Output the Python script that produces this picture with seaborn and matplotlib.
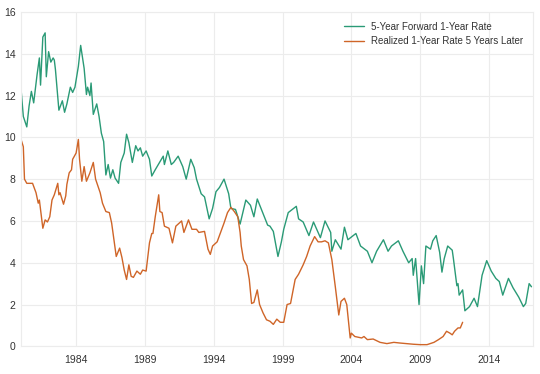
import pandas as pd
import seaborn as sns
import matplotlib.pyplot as plt

# 5-year forward 1-year rate (monthly readings)
fwd_dates = [
    "1980-01", "1980-03", "1980-06", "1980-08", "1980-10", "1980-12",
    "1981-03", "1981-05", "1981-06", "1981-08", "1981-10", "1981-11",
    "1982-01", "1982-03", "1982-05", "1982-06", "1982-07", "1982-10",
    "1983-01", "1983-03", "1983-05", "1983-08", "1983-10", "1983-12",
    "1984-03", "1984-05", "1984-08", "1984-10", "1984-11",
    "1985-01", "1985-02", "1985-04", "1985-07", "1985-09", "1985-11",
    "1986-01", "1986-02", "1986-03", "1986-05", "1986-07", "1986-09", "1986-11",
    "1987-02", "1987-04", "1987-07", "1987-09", "1987-11",
    "1988-02", "1988-05", "1988-07", "1988-09", "1988-11",
    "1989-02", "1989-05", "1989-07", "1989-10",
    "1990-05", "1990-06", "1990-09", "1990-12",
    "1991-02", "1991-06", "1991-10",
    "1992-01", "1992-05", "1992-08", "1992-10",
    "1993-02", "1993-05", "1993-09", "1993-12",
    "1994-03", "1994-06", "1994-10",
    "1995-02", "1995-04", "1995-08", "1995-12",
    "1996-05", "1996-09", "1996-12",
    "1997-03", "1997-07", "1997-12",
    "1998-02", "1998-05", "1998-09", "1998-12",
    "1999-02", "1999-06",
    "2000-01", "2000-03", "2000-07", "2000-12",
    "2001-04", "2001-10",
    "2002-02", "2002-07", "2002-08", "2002-11",
    "2003-04", "2003-07", "2003-10",
    "2004-05", "2004-09",
    "2005-03", "2005-07", "2005-11",
    "2006-05", "2006-09", "2006-12",
    "2007-06", "2007-10",
    "2008-03", "2008-06", "2008-07", "2008-09", "2008-12",
    "2009-02", "2009-04", "2009-06", "2009-10", "2009-12",
    "2010-03", "2010-06", "2010-08", "2010-10",
    "2011-01", "2011-05", "2011-06", "2011-09", "2011-10", "2011-11",
    "2012-02", "2012-04", "2012-08", "2012-12",
    "2013-03", "2013-07", "2013-11",
    "2014-03", "2014-07", "2014-10",
    "2015-01", "2015-06", "2015-10",
    "2016-03", "2016-07", "2016-09", "2016-12",
    "2017-02",
]
fwd_rate = [
    12.3, 11.0, 10.5, 11.5, 12.2, 11.65,
    13.0, 13.8, 12.5, 14.8, 15.0, 12.9,
    14.1, 13.6, 13.8, 13.7, 13.25, 11.3,
    11.75, 11.2, 11.6, 12.4, 12.15, 12.4,
    13.4, 14.4, 13.3, 12.05, 12.4,
    12.0, 12.6, 11.1, 11.6, 11.0, 10.2,
    9.8, 8.95, 8.2, 8.7, 8.05, 8.45, 8.05,
    7.8, 8.8, 9.25, 10.15, 9.75,
    8.8, 9.6, 9.35, 9.5, 9.1,
    9.35, 8.95, 8.15, 8.45,
    9.1, 8.7, 9.35, 8.7,
    8.8, 9.1, 8.6,
    8.0, 8.95, 8.55, 8.0,
    7.3, 7.15, 6.1, 6.6,
    7.4, 7.6, 8.0,
    7.3, 6.6, 6.55, 5.85,
    7.0, 6.75, 6.2,
    7.05, 6.5, 5.8,
    5.75, 5.5, 4.3, 5.0,
    5.6, 6.4,
    6.7, 6.1, 5.95, 5.3,
    5.95, 5.2,
    6.0, 5.45, 4.55, 5.1,
    4.65, 5.7, 5.1,
    5.4, 4.8,
    4.55, 4.0, 4.55,
    5.1, 4.55, 4.8,
    5.05, 4.55,
    4.0, 4.2, 3.4, 4.2, 2.0,
    3.85, 3.0, 4.8, 4.65, 5.05,
    5.3, 4.5, 3.55, 4.2,
    4.8, 4.6, 4.2, 2.9, 3.0, 2.45,
    2.7, 1.7, 1.9, 2.3,
    1.9, 3.4, 4.1,
    3.6, 3.25, 3.1,
    2.45, 3.25, 2.8,
    2.35, 1.9, 2.05, 3.0,
    2.85,
]

# realized 1-year rate 5 years later
real_dates = [
    "1980-01", "1980-03", "1980-04", "1980-06", "1980-11",
    "1981-02", "1981-04", "1981-05", "1981-08", "1981-10", "1981-12",
    "1982-02", "1982-04", "1982-06", "1982-09", "1982-10", "1982-11",
    "1983-02", "1983-04", "1983-05", "1983-07", "1983-09", "1983-10",
    "1984-01", "1984-03", "1984-04", "1984-06", "1984-08", "1984-10",
    "1985-01", "1985-04", "1985-06", "1985-10", "1985-12",
    "1986-03", "1986-06", "1986-08", "1986-10", "1986-12",
    "1987-03", "1987-05", "1987-07", "1987-09", "1987-11",
    "1988-01", "1988-03", "1988-06", "1988-09", "1988-11",
    "1989-02", "1989-05", "1989-07", "1989-08", "1989-10",
    "1990-01", "1990-02", "1990-04", "1990-06", "1990-10",
    "1991-01", "1991-04", "1991-07", "1991-09", "1991-11",
    "1992-03", "1992-06", "1992-10", "1992-12",
    "1993-05", "1993-08", "1993-10", "1993-12",
    "1994-04", "1994-07", "1994-10",
    "1995-01", "1995-04", "1995-07", "1995-10", "1995-12",
    "1996-01", "1996-03", "1996-06", "1996-08", "1996-10", "1996-12",
    "1997-03", "1997-05", "1997-08", "1997-11",
    "1998-02", "1998-05", "1998-08", "1998-11",
    "1999-02", "1999-05", "1999-08", "1999-12",
    "2000-03", "2000-07", "2000-10",
    "2001-01", "2001-05", "2001-08", "2001-11",
    "2002-02", "2002-05", "2002-08", "2002-11",
    "2003-02", "2003-04", "2003-07", "2003-09", "2003-11", "2003-12",
    "2004-01", "2004-04", "2004-10", "2004-12",
    "2005-03", "2005-08",
    "2006-02", "2006-08",
    "2007-02", "2007-07",
    "2008-01", "2008-07",
    "2009-01", "2009-07",
    "2010-01", "2010-05", "2010-09", "2010-12",
    "2011-03", "2011-05", "2011-07", "2011-10", "2011-12",
    "2012-02",
]
real_rate = [
    9.9, 9.55, 8.0, 7.8, 7.8,
    7.35, 6.85, 7.0, 5.65, 6.05, 5.95,
    6.2, 7.0, 7.25, 7.8, 7.25, 7.35,
    6.8, 7.2, 7.75, 8.3, 8.45, 8.95,
    9.25, 9.9, 8.95, 7.9, 8.6, 7.9,
    8.3, 8.8, 8.0, 7.35, 6.85,
    6.45, 6.4, 5.9, 5.1, 4.3,
    4.7, 4.25, 3.65, 3.2, 3.9,
    3.35, 3.3, 3.6, 3.45, 3.65,
    3.6, 4.95, 5.4, 5.4, 6.2,
    7.25, 6.45, 6.4, 5.75, 5.65,
    4.95, 5.75, 5.9, 6.0, 5.45,
    6.05, 5.6, 5.6, 5.45,
    5.5, 4.65, 4.4, 4.8,
    5.0, 5.45, 5.9,
    6.4, 6.65, 6.45, 6.2, 5.45,
    4.8, 4.15, 3.85, 3.2, 2.05, 2.1,
    2.7, 2.0, 1.6, 1.27,
    1.2, 1.05, 1.3, 1.15,
    1.15, 2.0, 2.05, 3.2,
    3.45, 3.9, 4.3,
    4.8, 5.25, 5.0, 5.0,
    5.05, 4.95, 4.15, 2.85,
    1.5, 2.15, 2.3, 2.0, 0.95, 0.4,
    0.63, 0.47, 0.4, 0.47,
    0.32, 0.35,
    0.19, 0.13,
    0.19, 0.16,
    0.13, 0.1,
    0.08, 0.08,
    0.19, 0.32, 0.47, 0.72,
    0.63, 0.55, 0.72, 0.88, 0.88,
    1.15,
]

series_names = ["5-Year Forward 1-Year Rate", "Realized 1-Year Rate 5 Years Later"]
series_colors = ["#2a9a76", "#cf6528"]
tick_years = [1984, 1989, 1994, 1999, 2004, 2009, 2014]
y_ticks = [0, 2, 4, 6, 8, 10, 12, 14, 16]

df = pd.concat([
    pd.DataFrame({"date": pd.to_datetime(fwd_dates, format="%Y-%m"),
                  "rate": fwd_rate, "series": series_names[0]}),
    pd.DataFrame({"date": pd.to_datetime(real_dates, format="%Y-%m"),
                  "rate": real_rate, "series": series_names[1]}),
])

sns.set_style("whitegrid")
plt.rcParams["font.family"] = ["Liberation Sans", "DejaVu Sans"]

fig, ax = plt.subplots(figsize=(5.4, 3.74), dpi=100)
fig.subplots_adjust(left=0.039, right=0.987, bottom=0.074, top=0.968)

sns.lineplot(data=df, x="date", y="rate", hue="series", hue_order=series_names,
             palette=series_colors, linewidth=1.0, ax=ax)

ax.set_xlim(df["date"].min(), pd.Timestamp(fwd_dates[-1]) + pd.Timedelta(days=40))
ax.set_ylim(0, 16)
ax.set_xticks([pd.Timestamp(f"{y}-01-01") for y in tick_years])
ax.set_xticklabels([str(y) for y in tick_years])
ax.set_yticks(y_ticks)
ax.set_xlabel("")
ax.set_ylabel("")
ax.grid(True, color="#ececec", linewidth=0.8)
for s in ax.spines.values():
    s.set_color("#ececec")
    s.set_linewidth(0.8)
ax.tick_params(axis="both", length=0, labelsize=7.5, colors="#333333")
ax.tick_params(axis="x", pad=6)
ax.tick_params(axis="y", pad=4)

ax.legend(loc="upper right", frameon=False, fontsize=7, handlelength=2.1,
          handletextpad=0.7, labelspacing=0.45, borderaxespad=0.6,
          labelcolor="#333333")

fig.savefig("out.png", dpi=100)
